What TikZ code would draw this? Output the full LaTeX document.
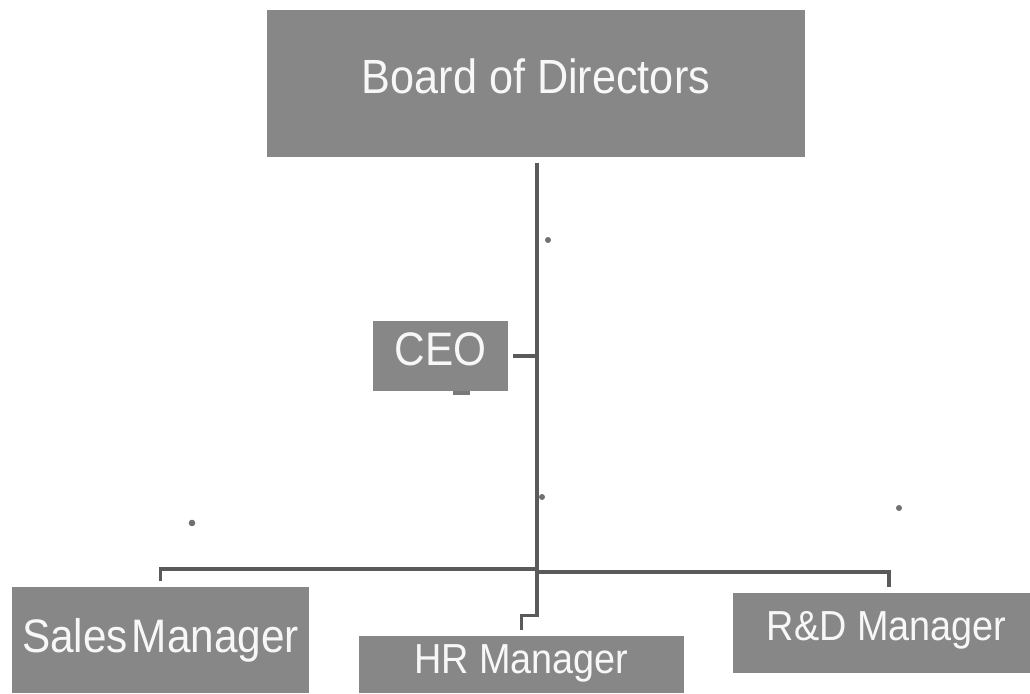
\documentclass[tikz,border=0pt]{standalone}
\usepackage{fontspec}
\newfontfamily\boxfont{Liberation Sans}[FakeStretch=0.9]
\definecolor{boxgray}{HTML}{878787}
\definecolor{boxtext}{HTML}{F7F7F7}
\definecolor{linegray}{HTML}{5A5A5A}
\definecolor{speckgray}{HTML}{707070}
\begin{document}
\begin{tikzpicture}[x=1pt,y=-1pt,
  box/.style={rectangle, fill=boxgray, text=boxtext, inner sep=0pt},
  conn/.style={draw=linegray, line width=3.4pt},
  speck/.style={fill=speckgray}]
\useasboundingbox (0,0) rectangle (1030,693);
\fill[white] (0,0) rectangle (1030,693);

% boxes
\node[box, minimum width=538pt, minimum height=147pt, text height=30pt, text depth=11pt,
      font=\boxfont\fontsize{48}{50}\selectfont] (board) at (536,83.5) {Board of Directors};
\node[box, minimum width=135pt, minimum height=70pt, text height=30pt, text depth=12pt,
      font=\boxfont\fontsize{47}{50}\selectfont] (ceo) at (440.5,356) {CEO};
\node[box, minimum width=297pt, minimum height=106pt, text height=34pt, text depth=10pt,
      font=\boxfont\fontsize{47}{50}\selectfont] (sales) at (160.5,640) {Sales\kern4pt Manager};
\node[box, minimum width=325pt, minimum height=57pt, text height=30pt, text depth=13pt,
      font=\boxfont\fontsize{42}{45}\selectfont] (hr) at (521.5,664.5) {HR Manager};
\node[box, minimum width=297pt, minimum height=80pt, text height=30pt, text depth=16pt,
      font=\boxfont\fontsize{42}{45}\selectfont] (rd) at (881.5,633) {\hspace*{10pt}R\&D Manager};

% small tab under CEO
\fill[boxgray!90!black] (453,391) rectangle (470,395);

% connectors
\coordinate (trunk) at ([xshift=1pt,yshift=-6pt]board.south);
\coordinate (barL) at (0,569);
\coordinate (barR) at (0,572);
\draw[conn] (trunk) -- ++(0,452) -| ([yshift=6pt]hr.north);
\draw[conn] ([xshift=5pt]ceo.east) -- (ceo.east -| trunk);
\draw[conn] ([yshift=6pt]sales.north) |- (trunk |- barL);
\draw[conn] ([xshift=7.5pt,yshift=6pt]rd.north) |- (trunk |- barR);

% specks
\fill[speck] (548,240) circle (3pt);
\fill[speck] (542,497) circle (3pt);
\fill[speck] (192,523) circle (3.3pt);
\fill[speck] (899,508) circle (3pt);
\end{tikzpicture}
\end{document}
